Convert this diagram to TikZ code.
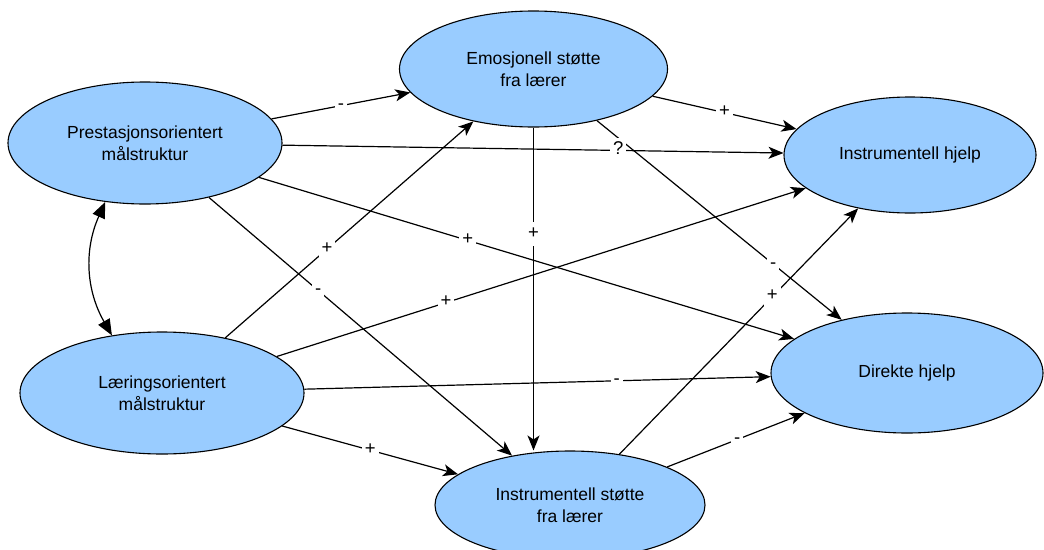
\documentclass[tikz,border=0pt]{standalone}
\usepackage{fontspec}
\setmainfont{Liberation Sans}
\usepackage{tikz}
\usetikzlibrary{shapes.geometric}
\usetikzlibrary{arrows.meta}
\definecolor{factorblue}{HTML}{99CCFF}
\tikzset{
  factornode/.style = {align=center, inner sep=0pt, text centered,
    font=\fontsize{17.5}{22}\selectfont},
  goal_node/.style = {factornode, ellipse, draw=black, fill=factorblue,
    line width=1.1pt},% faktor, blaa ellipse
  path_edge/.style = {draw=black, line width=1.2pt,
    -{Stealth[length=15pt, width=12pt, inset=4pt]}},% effekt
  assoc_edge/.style = {draw=black, line width=1.2pt,
    {Triangle[length=16pt, width=13pt]}-{Triangle[length=16pt, width=13pt]}},% korrelasjon
  sign_label/.style = {factornode, fill=white, inner xsep=3pt, inner ysep=4pt,
    text height=12pt, text depth=4pt,
    font=\fontsize{18.5}{20}\selectfont}% fortegn
}

\begin{document}
\begin{tikzpicture}[x=1pt, y=-1pt]
      \useasboundingbox (0,0) rectangle (1044,549);
      % faktorer
      \node [goal_node, minimum width=274pt, minimum height=122pt] (prest) at (145,143)
        {Prestasjonsorientert\\målstruktur};
      \node [goal_node, minimum width=284pt, minimum height=122pt] (laering) at (162,393)
        {Læringsorientert\\målstruktur};
      \node [goal_node, minimum width=268pt, minimum height=116pt] (emos) at (533.5,69)
        {Emosjonell støtte\\fra lærer};
      \node [goal_node, minimum width=270pt, minimum height=108pt] (instr_stotte) at (570,505)
        {Instrumentell støtte\\fra lærer};
      \node [goal_node, minimum width=252pt, minimum height=116pt] (instr_hjelp) at (910,155)
        {Instrumentell hjelp};
      \node [goal_node, minimum width=272pt, minimum height=120pt] (direkte) at (907,373)
        {Direkte hjelp};
      % effekter
      \draw [path_edge] (emos) -- node [sign_label, pos=0.72] {-} (direkte);
      \draw [path_edge] (prest) -- node [sign_label, pos=0.5] {-} (emos);
      \draw [path_edge] (prest) -- node [sign_label, pos=0.67] {?} (instr_hjelp);
      \draw [path_edge] (prest) -- node [sign_label, pos=0.39] {+} (direkte);
      \draw [path_edge] (prest) -- node [sign_label, pos=0.36] {-} (instr_stotte);
      \draw [path_edge] (laering) -- node [sign_label, pos=0.41] {+} (emos);
      \draw [path_edge] (laering) -- node [sign_label, pos=0.32] {+} (instr_hjelp);
      \draw [path_edge] (laering) -- node [sign_label, pos=0.67] {-} (direkte);
      \draw [path_edge] (laering) -- node [sign_label, pos=0.5] {+} (instr_stotte);
      \draw [path_edge] (emos) -- node [sign_label, pos=0.5] {+} (instr_hjelp);
      \draw [path_edge] (emos.south) -- node [sign_label, pos=0.33] {+}
        (emos.south |- instr_stotte.north);
      \draw [path_edge] (instr_stotte) -- node [sign_label, pos=0.64] {+} (instr_hjelp);
      \draw [path_edge] (instr_stotte) -- node [sign_label, pos=0.51] {-} (direkte);
      % korrelasjon
      \draw [assoc_edge] (prest.236) to [bend right=27] (laering.131);
\end{tikzpicture}
\end{document}
